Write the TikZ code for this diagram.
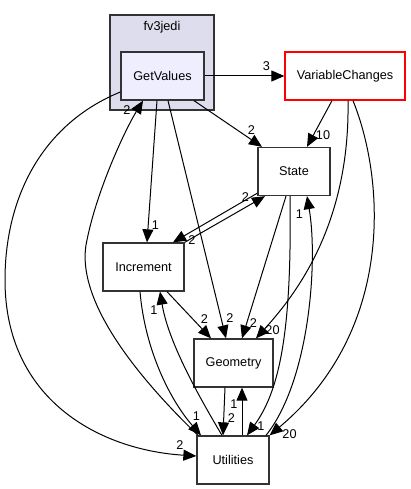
\documentclass[tikz,border=0pt]{standalone}
\usepackage{fontspec}
\setmainfont{Liberation Sans}
\usetikzlibrary{arrows.meta,positioning}

\definecolor{clusterfill}{HTML}{DDDDEE}
\definecolor{dirfill}{HTML}{EEEEFF}
\definecolor{boxline}{HTML}{333333}
\definecolor{topline}{HTML}{FF0000}

\tikzset{
	dirbox/.style={line width=1.3pt, inner sep=0pt, minimum height=48pt},
	dep/.style={line width=1pt, -{Triangle[length=13pt,width=11pt]}},
	cnt/.style={inner sep=0pt}
}

\begin{document}
\begin{tikzpicture}[x=1pt,y=-1pt,font=\fontsize{12.7}{15}\selectfont]
		\useasboundingbox (0,0) rectangle (410,489);
%		\draw[step=10,gray!20] (0,0) grid (410,489);
		\node[draw=boxline, line width=1.3pt, fill=clusterfill, minimum width=104pt, minimum height=95pt] (fv3jedi) at (162,62.5) {};
		\node[cnt] (fv3jedilabel) at (162,27.5) {fv3jedi};
		\node[dirbox, draw=boxline, fill=dirfill, minimum width=83pt] (gv) at (162.5,76) {GetValues};
		\node[dirbox, draw=topline, fill=white, minimum width=120pt] (vc) at (345,76) {VariableChanges};
		\node[dirbox, draw=boxline, fill=white, minimum width=72pt] (st) at (294,171.5) {State};
		\node[dirbox, draw=boxline, fill=white, minimum width=81pt] (inc) at (143.5,267) {Increment};
		\node[dirbox, draw=boxline, fill=white, minimum width=79pt] (geo) at (233.5,363) {Geometry};
		\node[dirbox, draw=boxline, fill=white, minimum width=72pt] (ut) at (233,460) {Utilities};

		\draw[dep] (gv.east) -- (vc.west);
		\draw[dep] ([xshift=31.5]gv.south) -- ([xshift=-32]st.north);
		\draw[dep] ([xshift=-13]vc.south) -- ([xshift=13]st.north);
		\draw[dep] ([xshift=-5.5]gv.south) -- ([xshift=3.5]inc.north);
		\draw[dep] ([xshift=5.5]gv.south) -- ([xshift=-7.5]geo.north);
		\draw[dep] ([yshift=-16]gv.west) .. controls (40,125) and (5,200) .. (5,280) .. controls (5,400) and (100,450) .. ([yshift=4]ut.west);
		\draw[dep] ([xshift=-35]ut.north) .. controls (120,360) and (75,290) .. (87,240) .. controls (97,190) and (125,130) .. ([xshift=-19.5]gv.south);
		\draw[dep] (inc.north east) -- ([xshift=-29]st.south);
		\draw[dep] ([yshift=3]st.south west) -- ([xshift=29.5]inc.north);
		\draw[dep] ([xshift=23.5]inc.south) -- ([xshift=-22.5]geo.north);
		\draw[dep] ([xshift=-8]st.south) -- ([xshift=8.5]geo.north);
		\draw[dep] ([xshift=3]vc.south) .. controls (350,220) and (300,290) .. ([xshift=22.5]geo.north);
		\draw[dep] ([xshift=8]vc.south) .. controls (385,180) and (395,330) .. (ut.north east);
		\draw[dep] ([xshift=-4]st.south) .. controls (292,330) and (280,390) .. ([xshift=14]ut.north);
		\draw[dep] ([xshift=33]ut.north) .. controls (310,380) and (318,260) .. ([xshift=13]st.south);
		\draw[dep] ([xshift=-8.5]geo.south) -- ([xshift=-10]ut.north);
		\draw[dep] ([xshift=9]ut.north) -- ([xshift=8.5]geo.south);
		\draw[dep] ([xshift=-3.5]inc.south) .. controls (145,350) and (170,400) .. ([xshift=-32]ut.north);
		\draw[dep] ([xshift=-11]ut.north) .. controls (195,390) and (168,340) .. ([xshift=16.5]inc.south);

		% edge counts
		\node[cnt] (ngvvc) at (266.5,66.5) {3};
		\node[cnt] (ngvst) at (251.5,130) {2};
		\node[cnt] (nvcst) at (323,135) {10};
		\node[cnt] (nutgv) at (127,110) {2};
		\node[cnt] (ngvinc) at (155.5,225) {1};
		\node[cnt] (nincst) at (245.5,197) {2};
		\node[cnt] (nstinc) at (192,240) {2};
		\node[cnt] (nutinc) at (154,310.5) {1};
		\node[cnt] (nincgeo) at (204.5,319.5) {2};
		\node[cnt] (ngvgeo) at (230,318.5) {2};
		\node[cnt] (nstgeo) at (253.5,323) {2};
		\node[cnt] (nvcgeo) at (272.5,330.5) {20};
		\node[cnt] (nutst) at (299.5,214) {1};
		\node[cnt] (nutgeo) at (234,404.5) {1};
		\node[cnt] (ngeout) at (231.5,418) {2};
		\node[cnt] (nincut) at (196.5,416.5) {1};
		\node[cnt] (nstut) at (261,426.5) {1};
		\node[cnt] (nvcut) at (289.5,434) {20};
		\node[cnt] (ngvut) at (180,445) {2};
	\end{tikzpicture}
\end{document}
